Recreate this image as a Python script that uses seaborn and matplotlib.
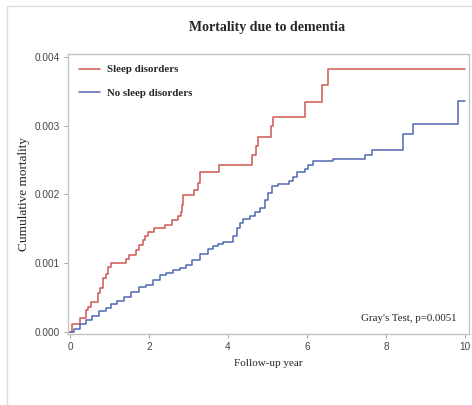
import numpy as np
import pandas as pd
import matplotlib
matplotlib.use("Agg")
import matplotlib.pyplot as plt
import seaborn as sns
from matplotlib.lines import Line2D

# Sleep disorders (red) - step curve
sleep_t = [0, 0.05, 0.25, 0.40, 0.46, 0.53, 0.70, 0.77, 0.84, 0.91, 0.97, 1.04,
           1.42, 1.50, 1.67, 1.75, 1.84, 1.91, 1.97, 2.14, 2.41, 2.58, 2.73, 2.81,
           2.83, 2.85, 3.15, 3.25, 3.30, 3.78, 4.60, 4.71, 4.77, 5.10, 5.13, 5.95,
           6.39, 6.54, 10.0]
sleep_y = [0, 0.000116, 0.0002, 0.00032, 0.00037, 0.00044, 0.00056, 0.00064,
           0.00078, 0.00085, 0.00094, 0.00101, 0.00106, 0.00112, 0.00119, 0.00127,
           0.00134, 0.0014, 0.00146, 0.00151, 0.00156, 0.00163, 0.00168, 0.00175,
           0.00185, 0.00199, 0.00207, 0.00216, 0.00233, 0.00243, 0.00257, 0.0027,
           0.00284, 0.00299, 0.00313, 0.00334, 0.00359, 0.00383, 0.00383]

# No sleep disorders (blue)
nosleep_t = [0, 0.10, 0.25, 0.40, 0.55, 0.74, 0.90, 1.05, 1.20, 1.37, 1.55, 1.75,
             1.92, 2.10, 2.28, 2.43, 2.60, 2.78, 2.94, 3.10, 3.29, 3.50, 3.63, 3.75,
             3.88, 4.13, 4.22, 4.30, 4.39, 4.56, 4.68, 4.81, 4.94, 5.02, 5.11, 5.27,
             5.55, 5.65, 5.74, 5.95, 6.03, 6.16, 6.67, 7.47, 7.64, 8.42, 8.68, 9.83,
             10.0]
nosleep_y = [0, 0.00005, 0.00012, 0.00018, 0.00023, 0.0003, 0.00035, 0.0004,
             0.00045, 0.00051, 0.00058, 0.00065, 0.00068, 0.00075, 0.00083, 0.00086,
             0.0009, 0.00093, 0.00097, 0.00105, 0.00114, 0.0012, 0.00125, 0.00128,
             0.00131, 0.00139, 0.00151, 0.00159, 0.00165, 0.00169, 0.00175, 0.00181,
             0.00192, 0.00202, 0.00212, 0.00215, 0.00219, 0.00225, 0.00232, 0.00237,
             0.00243, 0.00248, 0.00251, 0.00258, 0.00264, 0.00288, 0.00302, 0.00336,
             0.00336]

groups = ["Sleep disorders", "No sleep disorders"]
colors = ["#cc5850", "#5068b2"]
x_ticks = [0, 2, 4, 6, 8, 10]
y_ticks = [0.000, 0.001, 0.002, 0.003, 0.004]

df = pd.concat([
    pd.DataFrame({"t": sleep_t, "y": sleep_y, "group": groups[0]}),
    pd.DataFrame({"t": nosleep_t, "y": nosleep_y, "group": groups[1]}),
])

sns.set_style("white")
serif = ["Liberation Serif", "DejaVu Serif"]
sans = ["Liberation Sans", "DejaVu Sans"]

fig = plt.figure(figsize=(4.72, 4.05), dpi=100)
ax = fig.add_axes([0.144, 0.1753, 0.8496, 0.6914])

sns.lineplot(data=df, x="t", y="y", hue="group", palette=colors,
             drawstyle="steps-post", estimator=None, sort=False,
             linewidth=1.1, legend=False, ax=ax)

ax.set_xlim(-0.05, 10.10)
ax.set_ylim(-0.00003, 0.004044)
ax.set_xticks(x_ticks)
ax.set_yticks(y_ticks)
ax.set_yticklabels([f"{v:.3f}" for v in y_ticks])
ax.tick_params(axis="both", direction="out", length=3, width=0.6,
               color="#999999", labelcolor="#444444", labelsize=7.2, pad=3,
               bottom=True, left=True)
for lab in ax.get_xticklabels() + ax.get_yticklabels():
    lab.set_family(sans)
for s in ax.spines.values():
    s.set_color("#c4c4c4")
    s.set_linewidth(1.0)

ax.set_xlabel("Follow-up year", family=serif, fontsize=8.0, labelpad=5)
ax.set_ylabel("Cumulative mortality", family=serif, fontsize=9.5, labelpad=3)

fig.text(0.565, 0.933, "Mortality due to dementia", family=serif,
         fontweight="bold", fontsize=10.0, ha="center", va="center")

handles = [Line2D([], [], color=c, linewidth=1.1) for c in colors]
ax.legend(handles, groups, loc="upper left", frameon=False,
          prop={"family": serif, "weight": "bold", "size": 7.8},
          handlelength=2.0, handletextpad=0.6, labelspacing=1.25,
          borderaxespad=0.6, bbox_to_anchor=(0.0, 1.0))

ax.text(0.97, 0.04, "Gray's Test, p=0.0051", transform=ax.transAxes,
        family=serif, fontsize=7.8, ha="right", va="bottom", color="#222222")

# light page border seen at left and top of the picture
fig.add_artist(Line2D([7 / 472, 7 / 472], [0, 1 - 6 / 405], color="#dddddd",
                      linewidth=1.0, transform=fig.transFigure))
fig.add_artist(Line2D([7 / 472, 1], [1 - 6 / 405, 1 - 6 / 405], color="#dddddd",
                      linewidth=1.0, transform=fig.transFigure))

fig.savefig("out.png", dpi=100)
